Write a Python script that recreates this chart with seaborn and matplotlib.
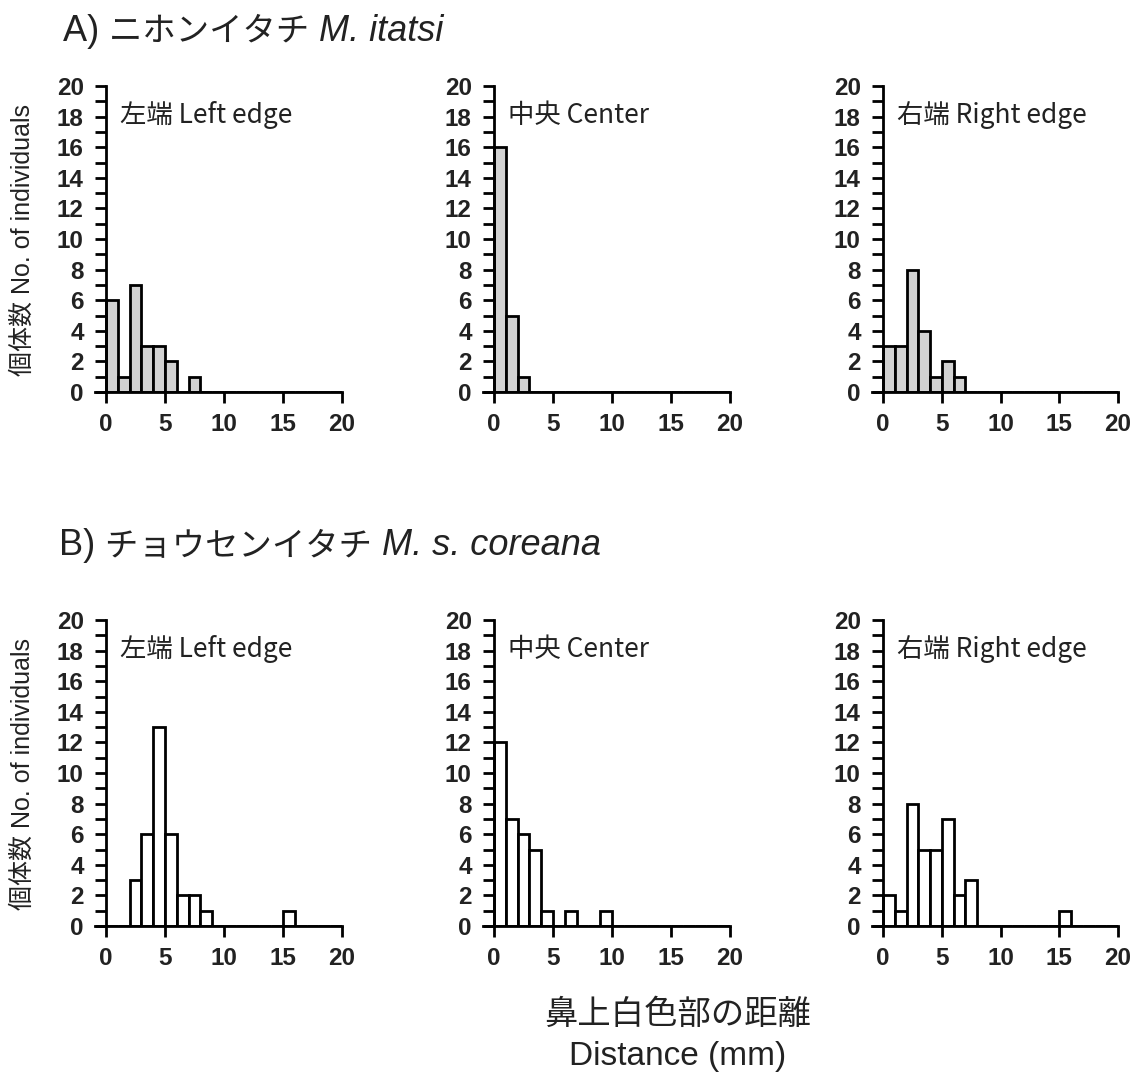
import numpy as np
import pandas as pd
import seaborn as sns
import matplotlib
matplotlib.use('Agg')
import matplotlib.pyplot as plt

# counts per 1 mm bin, starting at 0 mm
bin_edges = list(range(0, 21))
a_left_counts = [6, 1, 7, 3, 3, 2, 0, 1]
a_center_counts = [16, 5, 1]
a_right_counts = [3, 3, 8, 4, 1, 2, 1]
b_left_counts = [0, 0, 3, 6, 13, 6, 2, 2, 1, 0, 0, 0, 0, 0, 0, 1]
b_center_counts = [12, 7, 6, 5, 1, 0, 1, 0, 0, 1]
b_right_counts = [2, 1, 8, 5, 5, 7, 2, 3, 0, 0, 0, 0, 0, 0, 0, 1]

panel_labels = ['左端 Left edge', '中央 Center', '右端 Right edge']
title_a = ('A) ', 'ニホンイタチ ', 'M. itatsi')
title_b = ('B) ', 'チョウセンイタチ ', 'M. s. coreana')
ylabel = '個体数 No. of individuals'
xlabel_jp = '鼻上白色部の距離'
xlabel_en = 'Distance (mm)'

sns.set_style('ticks')
SANS = ['Liberation Sans', 'Noto Sans CJK JP', 'DejaVu Sans']
plt.rcParams['font.family'] = SANS

W, H = 1136, 1075
fig = plt.figure(figsize=(W / 100, H / 100), dpi=100)


def make_panel(x0px, x20px, y0px, y20px, counts, fill, label):
    s = (x20px - x0px) / 20
    left = x0px - 0.9 * s
    ax = fig.add_axes([left / W, 1 - y0px / H, (x20px - left) / W, (y0px - y20px) / H])
    df = pd.DataFrame({'mm': [i + 0.5 for i in range(len(counts))], 'n': counts})
    sns.histplot(data=df, x='mm', weights='n', bins=bin_edges, ax=ax,
                 color=fill, edgecolor='black', linewidth=2.0, alpha=1)
    ax.set_xlim(-0.9, 20)
    ax.set_ylim(0, 20)
    ax.spines['left'].set_position(('data', 0))
    ax.spines['right'].set_visible(False)
    ax.spines['top'].set_visible(False)
    for sp in ['left', 'bottom']:
        ax.spines[sp].set_linewidth(2.0)
        ax.spines[sp].set_color('black')
    ax.set_xticks([0, 5, 10, 15, 20])
    ax.set_yticks(range(0, 21, 2))
    ax.set_yticks(range(0, 21), minor=True)
    ax.tick_params(axis='both', which='both', direction='out', length=8, width=2,
                   color='black')
    ax.tick_params(axis='both', which='major', labelsize=17.5)
    ax.tick_params(axis='y', which='major', pad=8)
    ax.tick_params(axis='x', which='major', pad=7)
    for t in ax.get_xticklabels() + ax.get_yticklabels():
        t.set_fontweight('bold')
        t.set_color('#222222')
    ax.set_xlabel('')
    ax.set_ylabel('')
    ax.text(1.2, 18.1, label, va='center', ha='left', fontsize=19,
            family=['Noto Sans CJK JP', 'DejaVu Sans'], color='#222222')
    return ax


x0s = [106, 494, 883]
x20s = [342, 730, 1118]
row_a = [a_left_counts, a_center_counts, a_right_counts]
row_b = [b_left_counts, b_center_counts, b_right_counts]
for i in range(3):
    make_panel(x0s[i], x20s[i], 392, 86, row_a[i], '#d2d2d2', panel_labels[i])
    make_panel(x0s[i], x20s[i], 926, 620, row_b[i], 'white', panel_labels[i])

renderer = fig.canvas.get_renderer()


def title(xpx, ypx, parts):
    styles = [dict(fontsize=26), dict(fontsize=24), dict(fontsize=26, style='italic')]
    x = xpx
    for text, st in zip(parts, styles):
        t = fig.text(x / W, 1 - ypx / H, text, va='baseline', ha='left',
                     color='#222222', **st)
        x = t.get_window_extent(renderer=renderer).x1


title(63, 41, title_a)
title(59, 555, title_b)

for ycen in [240, 774]:
    fig.text(23 / W, 1 - ycen / H, ylabel, rotation=90, fontsize=18,
             va='center', ha='center', color='#222222')

fig.text(678 / W, 1 - 1015 / H, xlabel_jp, fontsize=24, ha='center', va='center',
         color='#222222')
fig.text(678 / W, 1 - 1056 / H, xlabel_en, fontsize=24, ha='center', va='center',
         color='#222222')

fig.savefig('out.png', dpi=100)
